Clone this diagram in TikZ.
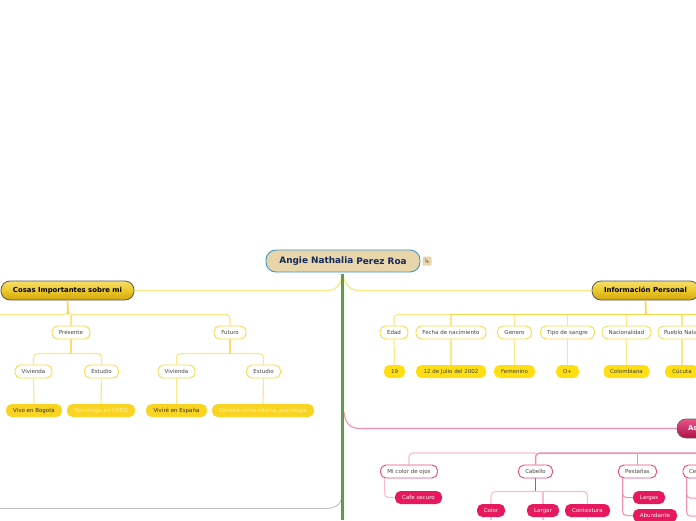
\documentclass[tikz,border=0pt]{standalone}
\usepackage{fontspec}
\setmainfont{DejaVu Sans}
\definecolor{ybr}{HTML}{FDE68A}
\definecolor{ybrd}{HTML}{FBD84A}
\definecolor{yjoin}{HTML}{FCDC6E}
\definecolor{yleafl}{HTML}{F9D423}
\definecolor{yleafr}{HTML}{FFDF13}
\definecolor{pbr}{HTML}{F9BDD3}
\definecolor{pbrd}{HTML}{F48FB1}
\definecolor{pk}{HTML}{E6195F}
\definecolor{trunk}{HTML}{5C9E45}
\definecolor{rootfill}{HTML}{E8D5A9}
\definecolor{rootbd}{HTML}{3E94CC}
\definecolor{navy}{HTML}{12295C}
\definecolor{lighty}{HTML}{FFF3B0}
\definecolor{gtop}{HTML}{F5DF6A}
\definecolor{gmid}{HTML}{EBC82A}
\definecolor{gbot}{HTML}{D2A612}
\tikzset{
  allbox/.style={rounded corners=5.5pt,minimum height=13pt,inner sep=0pt,text height=4.6pt,text depth=.4pt,font=\fontsize{5.5}{6}\selectfont,text=black!72},
  ybox/.style={allbox,draw=ybrd,fill=white,line width=.9pt},
  yleaf/.style={allbox,fill=yleafl,text=black!80},
  yleafw/.style={allbox,fill=yleafl,text=lighty},
  rleaf/.style={allbox,fill=yleafr,text=black!75},
  pbox/.style={allbox,draw=pk!80!white,fill=white,line width=.9pt},
  pleaf/.style={allbox,fill=pk,text=white!90!pink},
  mainy/.style={rounded corners=9pt,minimum height=19pt,inner sep=0pt,text height=5.4pt,text depth=.8pt,draw=black!65,line width=.8pt,
    top color=gtop,bottom color=gbot,middle color=gmid,
    font=\fontsize{6.9}{8}\selectfont\bfseries,text=black},
  mainp/.style={rounded corners=9pt,minimum height=19pt,inner sep=0pt,text height=5.4pt,text depth=.8pt,draw=black!60,line width=.8pt,
    top color=pk!75!white,bottom color=pk!75!black,
    font=\fontsize{6.9}{8}\selectfont\bfseries,text=white},
  yl/.style={draw=ybr,line width=1.2pt},
  yt/.style={draw=ybrd,line width=1.7pt},
  pl/.style={draw=pbr,line width=1.1pt},
  pt/.style={draw=pbrd,line width=1.5pt},
  curve/.style={line width=.9pt},
}
\begin{document}
\begin{tikzpicture}[x=1pt,y=-1pt]
\useasboundingbox (0,0) rectangle (696,520);
\clip (0,0) rectangle (696,520);
% root
\node[rounded corners=10pt,draw=rootbd,fill=rootfill,line width=.9pt,minimum width=154pt,minimum height=22pt,inner sep=0pt,
  font=\fontsize{8.9}{10}\selectfont\bfseries,text=navy] (root) at (343,261) {Angie Nathalia \raisebox{-1.2pt}{Perez Roa}};
\node[rounded corners=1.2pt,fill=rootfill,minimum width=9pt,minimum height=9pt,inner sep=0pt,font=\fontsize{6.5}{7}\selectfont,text=black!65] (note) at (427,261) {↳};
% main branches
\node[mainy,minimum width=133pt] (cosas) at (67.5,290.5) {Cosas Importantes sobre mi};
\node[mainy,minimum width=107pt] (info) at (645.5,290.5) {Información Personal};
\node[mainp,minimum width=90pt,text width=68pt,align=left] (asp) at (722,428.5) {As};
% left side
\node[ybox,minimum width=38pt] (pres) at (71,332.5) {Presente};
\node[ybox,minimum width=32pt] (fut) at (230,332.5) {Futuro};
\node[ybox,minimum width=37pt] (viv1) at (33.5,371.5) {Vivienda};
\node[ybox,minimum width=34pt] (est1) at (101.5,371.5) {Estudio};
\node[ybox,minimum width=37pt] (viv2) at (176.5,371.5) {Vivienda};
\node[ybox,minimum width=34pt] (est2) at (263.5,371.5) {Estudio};
\node[yleaf,minimum width=56pt] (l1) at (34,410.5) {Vivo en Bogotá};
\node[yleafw,minimum width=68pt] (l2) at (101,410.5) {Tecnólogo en HSEQ};
\node[yleaf,minimum width=61pt] (l3) at (176.5,410.5) {Viviré en España};
\node[yleafw,minimum width=102pt] (l4) at (263,410.5) {Carrera universitaria, psicología};
% info side
\node[ybox,minimum width=28pt] (edad) at (394,332.5) {Edad};
\node[ybox,minimum width=70pt] (fecha) at (451,332.5) {Fecha de nacimiento};
\node[ybox,minimum width=34pt] (gen) at (514.5,332.5) {Genero};
\node[ybox,minimum width=54pt] (tipo) at (567.5,332.5) {Tipo de sangre};
\node[ybox,minimum width=49pt] (nac) at (626.5,332.5) {Nacionalidad};
\node[ybox,minimum width=48pt,text width=36pt,align=left] (pue) at (682,332.5) {Pueblo Nata};
\node[rleaf,minimum width=21pt] (r1) at (394.5,371.5) {19};
\node[rleaf,minimum width=70pt] (r2) at (451,371.5) {12 de Julio del 2002};
\node[rleaf,minimum width=41pt] (r3) at (514.5,371.5) {Femenino};
\node[rleaf,minimum width=23pt] (r4) at (567.5,371.5) {O+};
\node[rleaf,minimum width=46pt] (r5) at (626.5,371.5) {Colombiana};
\node[rleaf,minimum width=34pt] (r6) at (682,371.5) {Cúcuta};
% pink side
\node[pbox,minimum width=57pt] (ojos) at (409,471.5) {Mi color de ojos};
\node[pbox,minimum width=34pt] (cab) at (535.5,471.5) {Cabello};
\node[pbox,minimum width=38pt] (pes) at (637.5,471.5) {Pestañas};
\node[pbox,minimum width=34pt,text width=22pt,align=left] (ce) at (700,471.5) {Ce};
\node[pleaf,minimum width=47pt] (cafe) at (418.5,497.5) {Cafe oscuro};
\node[pleaf,minimum width=28pt] (color) at (491,510.5) {Color};
\node[pleaf,minimum width=32pt] (lar) at (543,510.5) {Largor};
\node[pleaf,minimum width=45pt] (con) at (587.5,510.5) {Contextura};
\node[pleaf,minimum width=32pt] (largas) at (649,497.5) {Largas};
\node[pleaf,minimum width=44pt] (abu) at (655,515.5) {Abundante};
% free ends
\coordinate (tl) at (0,314.5);
\coordinate (tc) at (68,314.5);
\coordinate (tr) at (646,314.5);
\coordinate (pt0) at (535.5,453);
\coordinate (ptr) at (696,453);
\coordinate (cabj) at (535.5,491.5);
\coordinate (presj) at (71,353.5);
\coordinate (futj) at (230,353.5);
\coordinate (grayend) at (0,508.5);
\coordinate (trbot) at (342.5,520);
\coordinate (trtop) at (342.5,274);
\coordinate (ce1) at (696,498);
\coordinate (ce2) at (696,516);
% connectors
\draw[yl,rounded corners=4pt] (tl) -- (tc) -- ++(0,0) -| (fut.north);
\draw[yl] (pres.north) -- (pres.north |- tc);
\draw[yt] (cosas.south) -- (tc);
\draw[yl,rounded corners=4pt] (viv1.north) |- (presj) -| (est1.north);
\draw[draw=yjoin,line width=1.2pt] (pres.south) -- (presj);
\draw[yl,rounded corners=4pt] (viv2.north) |- (futj) -| (est2.north);
\draw[draw=yjoin,line width=1.2pt] (fut.south) -- (futj);
\foreach \a/\b in {viv1/l1,est1/l2,viv2/l3,est2/l4,edad/r1,fecha/r2,gen/r3,tipo/r4,nac/r5,pue/r6}
  \draw[yl] (\a.south) -- (\b.north);
\draw[yl,rounded corners=4pt] (edad.north) |- (tr);
\draw[yt,line width=1.3pt] (fecha.north |- tr) -- (696,314.5);
\foreach \a in {fecha,gen,tipo,nac,pue} \draw[yl] (\a.north) -- (\a.north |- tr);
\draw[yt] (info.south) -- (tr);
% pink branches
\draw[pl,line width=1.3pt,rounded corners=4pt] (ojos.north) |- (pt0);
\draw[pt,rounded corners=4pt] (cab.north) |- (ptr);
\draw[draw=pbrd,line width=1.1pt] (pes.north) -- (pes.north |- pt0);
\draw[pl,rounded corners=4pt] ([xshift=-24.5pt]ojos.south) |- (cafe.west);
\draw[pk!85!white,line width=.9pt] (cab.south) -- (cabj);
\draw[pl,rounded corners=4pt] (color.north) |- (cabj) -| (con.north);
\draw[pl] (lar.north) -- (lar.north |- cabj);
\draw[pl] (color.south) -- (color.south |- trbot);
\draw[pl] (lar.south) -- (lar.south |- trbot);
\draw[pl] (con.south) -- (con.south |- trbot);
\draw[draw=pbrd,line width=1pt,rounded corners=4pt] ([xshift=-15pt]pes.south) |- (largas.west);
\draw[draw=pbrd,line width=1pt,rounded corners=4pt] ([xshift=-15pt]pes.south) |- (abu.west);
\draw[draw=pbrd,line width=1pt,rounded corners=4pt] ([xshift=-13.5pt]ce.south) |- (ce1);
\draw[draw=pbrd,line width=1pt,rounded corners=4pt] ([xshift=-13.5pt]ce.south) |- (ce2);
% main curves
\draw[curve,draw=ybr,line width=1.3pt] (cosas.east) -- (327,290.5) .. controls (335,290.5) and (341,286) .. (trtop);
\draw[curve,draw=ybr,line width=1.3pt] (info.west) -- (360,290.5) .. controls (351,290.5) and (345,286) .. (trtop);
\draw[curve,draw=pbrd,line width=1.1pt] (asp.west) -- (360,428.5) .. controls (351,428.5) and (345,424) .. (344,412);
\draw[curve,draw=black!25] (grayend) -- (326,508.5) .. controls (334,508.5) and (340,505) .. (341,500);
\draw[draw=trunk,line width=3.4pt] (trtop) -- (trbot);
\end{tikzpicture}
\end{document}
